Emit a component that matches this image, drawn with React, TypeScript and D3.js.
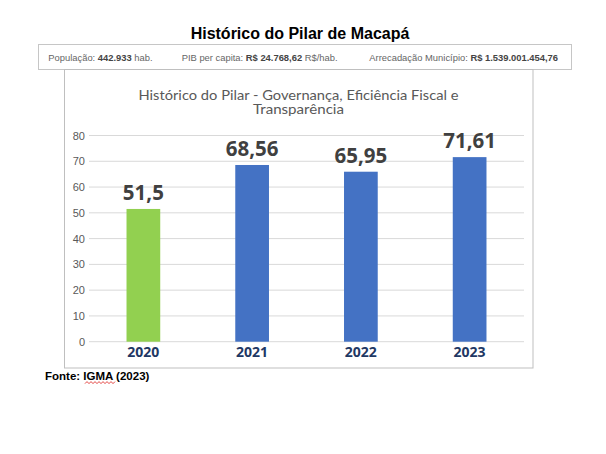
import React from "react";
import * as d3 from "d3";

const years = ["2020", "2021", "2022", "2023"];
const values = [51.5, 68.56, 65.95, 71.61];
const valueLabels = ["51,5", "68,56", "65,95", "71,61"];
const barColors = ["#92D050", "#4472C4", "#4472C4", "#4472C4"];
const yTicks = [0, 10, 20, 30, 40, 50, 60, 70, 80];

const pageTitle = "Histórico do Pilar de Macapá";
const chartTitleLines = ["Histórico do Pilar - Governança, Eficiência Fiscal e", "Transparência"];
const chartTitleWidths = [320, 91];
const infoItems = [
  { label: "População: ", value: "442.933", suffix: " hab." },
  { label: "PIB per capita: ", value: "R$ 24.768,62", suffix: " R$/hab." },
  { label: "Arrecadação Município: ", value: "R$ 1.539.001.454,76", suffix: "" },
];
const infoX = [48.3, 181.7, 369.3];
const source = "Fonte: IGMA (2023)";

export default function App() {
  const W = 606;
  const H = 454;
  const plotLeft = 89;
  const plotRight = 524;
  const y = d3.scaleLinear().domain([0, 80]).range([341.7, 135.5]);
  const x = d3.scaleBand<string>().domain(years).range([plotLeft, plotRight]).paddingInner(0.69).paddingOuter(0.345);

  // squiggle under IGMA
  const sq: [number, number][] = [];
  for (let i = 0; i <= 15; i++) sq.push([85 + i * 2, 382.6 + (i % 2 === 0 ? 1 : -1)]);
  const sqPath = d3.line()(sq) || "";

  return (
    <svg
      width={W}
      height={H}
      style={{ position: "absolute", left: 0, top: 0, background: "#fff" }}
      xmlns="http://www.w3.org/2000/svg"
    >
      <rect x={0} y={0} width={W} height={H} fill="#fff" />
      <text
        x={300}
        y={39}
        textAnchor="middle"
        fontFamily="'Liberation Sans', Arial, sans-serif"
        fontWeight="bold"
        fontSize={16}
        fill="#000"
      >
        {pageTitle}
      </text>

      {/* info box */}
      <rect x={38.5} y={44.5} width={533} height={25} fill="#fff" stroke="#C6C6C6" strokeWidth={1} />
      {infoItems.map((it, i) => (
        <text
          key={i}
          x={infoX[i]}
          y={60.7}
          fontFamily="'Liberation Sans', Arial, sans-serif"
          fontSize={9.4}
          fill="#666"
        >
          {it.label}
          <tspan fontWeight="bold" fill="#444">
            {it.value}
          </tspan>
          {it.suffix}
        </text>
      ))}

      {/* chart box */}
      <rect x={64.5} y={69.5} width={468.5} height={298.5} fill="#fff" stroke="#BFBFBF" strokeWidth={1} />

      {chartTitleLines.map((t, i) => (
        <text
          key={i}
          x={298.5}
          y={100 + i * 14}
          textAnchor="middle"
          fontFamily="Lato, 'Open Sans', sans-serif"
          fontSize={12.5}
          textLength={chartTitleWidths[i]}
          lengthAdjust="spacingAndGlyphs"
          fill="#595959"
        >
          {t}
        </text>
      ))}

      {yTicks.map((t) => (
        <g key={t}>
          <line x1={plotLeft} x2={plotRight} y1={y(t)} y2={y(t)} stroke="#D9D9D9" strokeWidth={1} />
          <text
            x={85}
            y={y(t) + 4}
            textAnchor="end"
            fontFamily="'Liberation Sans', Arial, sans-serif"
            fontSize={11}
            fill="#595959"
          >
            {t}
          </text>
        </g>
      ))}

      {years.map((yr, i) => (
        <g key={yr}>
          <rect
            x={x(yr)}
            y={y(values[i])}
            width={x.bandwidth()}
            height={y(0) - y(values[i])}
            fill={barColors[i]}
          />
          <text
            x={(x(yr) || 0) + x.bandwidth() / 2}
            y={y(values[i]) - 9}
            textAnchor="middle"
            fontFamily="'Open Sans', sans-serif"
            fontWeight="bold"
            fontSize={20.5}
            fill="#404040"
          >
            {valueLabels[i]}
          </text>
          <text
            x={(x(yr) || 0) + x.bandwidth() / 2}
            y={357.3}
            textAnchor="middle"
            fontFamily="'Open Sans', sans-serif"
            fontWeight="bold"
            fontSize={14}
            fill="#1F3864"
          >
            {yr}
          </text>
        </g>
      ))}

      <text
        x={45}
        y={380}
        fontFamily="'Liberation Sans', Arial, sans-serif"
        fontWeight="bold"
        fontSize={11.5}
        fill="#000"
      >
        {source}
      </text>
      <path d={sqPath} fill="none" stroke="#E0302C" strokeWidth={0.9} />
    </svg>
  );
}
